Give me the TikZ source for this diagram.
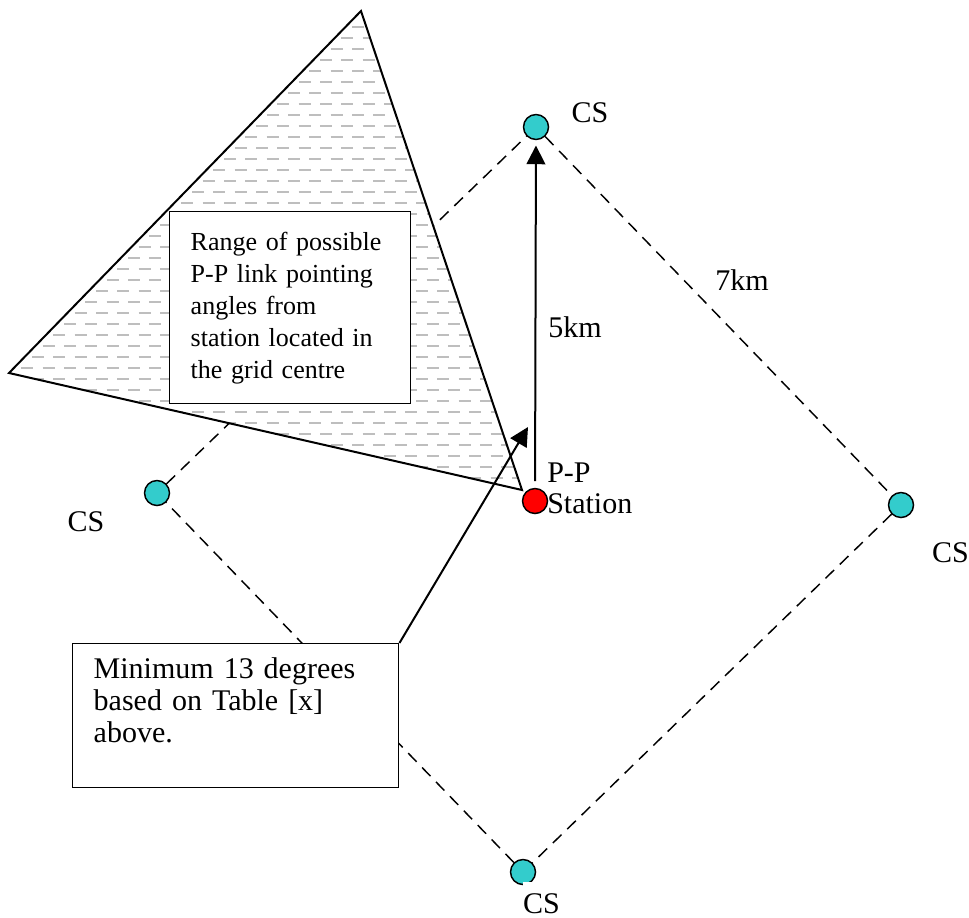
\documentclass[tikz,border=0pt]{standalone}
\usepackage{fontspec}
\setmainfont{Liberation Serif}
\usetikzlibrary{arrows.meta}
\definecolor{csteal}{RGB}{51, 204, 204}
\definecolor{hatchgray}{RGB}{190, 190, 190}

\begin{document}
\begin{tikzpicture}[
    x=0.75pt, y=-0.75pt,
    site/.style={
      circle, draw, line width=1.1pt, minimum size=18.75pt, inner sep=0pt
    },
    cs/.style={site, fill=csteal},
    station/.style={site, fill=red},
    lbl/.style={font=\fontsize{22.5}{24}\selectfont, inner sep=0pt},
    gridline/.style={dash pattern=on 9pt off 6pt, line width=1.1pt},
    hatch/.style={hatchgray, line width=0.9pt, dash pattern=on 9pt off 7pt},
    note/.style={
      draw, fill=white, line width=1.1pt, align=left,
      inner xsep=15.75pt, inner ysep=0pt, anchor=north west
    },
    link/.style={line width=1.5pt, -{Triangle[length=14pt, width=14pt]}},
]
    \useasboundingbox (0,0) rectangle (969,917);

    % Sites
    \node[cs] (cstop) at (536,127) {};
    \node[cs] (csleft) at (157,493) {};
    \node[cs] (csright) at (901,505) {};
    \node[cs] (csbottom) at (523,872) {};
    \node[station] (station) at (535,501) {};

    % Grid cell
    \draw[gridline] (csleft) -- (cstop) -- (csright) -- (csbottom) -- (csleft);

    % Range of angles
    \coordinate (apex) at (361,11);
    \coordinate (wing) at (9,373);
    \coordinate (foot) at (522,490);
    \fill[white] (apex) -- (wing) -- (foot) -- cycle;
    \begin{scope}
      \clip (apex) -- (wing) -- (foot) -- cycle;
      \foreach \y in {16,38,...,494}
        \draw[hatch] (0,\y) -- (540,\y);
      \foreach \y in {27,49,...,494}
        \draw[hatch, dash phase=8pt] (0,\y) -- (540,\y);
    \end{scope}
    \draw[line width=1.5pt] (apex) -- (wing) -- (foot) -- cycle;

    \node[note, font=\fontsize{19.5}{24}\selectfont, text width=149.25pt,
          minimum height=144pt] (range) at (169,211)
      {Range of possible\\P-P link pointing\\angles from\\station located in\\the grid centre};

    \node[note, font=\fontsize{22.5}{24}\selectfont, text width=213pt,
          minimum height=108pt] (minbox) at (72,643)
      {Minimum 13 degrees\\based on Table [x]\\above.\\\mbox{}};

    % Links
    \coordinate (tip) at (528,427);
    \draw[link] (minbox.north east) -- (tip);
    \draw[link, shorten <=5pt, shorten >=4pt] (station) -- (cstop);

    % Labels
    \node[lbl, anchor=base] (cstoplbl) at (590,122) {CS};
    \node[lbl, anchor=base] (csleftlbl) at (86,531) {CS};
    \node[lbl, anchor=base] (csrightlbl) at (950.5,562) {CS};
    \node[lbl, anchor=base, fill=white, text height=23pt] (csbottomlbl) at (541.5,913) {CS};
    \node[lbl, anchor=base] (fivekm) at (575,337) {5km};
    \node[lbl, anchor=base] (sevenkm) at (742,290) {7km};
    \node[lbl, anchor=base west] (pplbl) at (547,482) {P-P};
    \node[lbl, anchor=base west] (stationlbl) at (547,513) {Station};
\end{tikzpicture}
\end{document}
